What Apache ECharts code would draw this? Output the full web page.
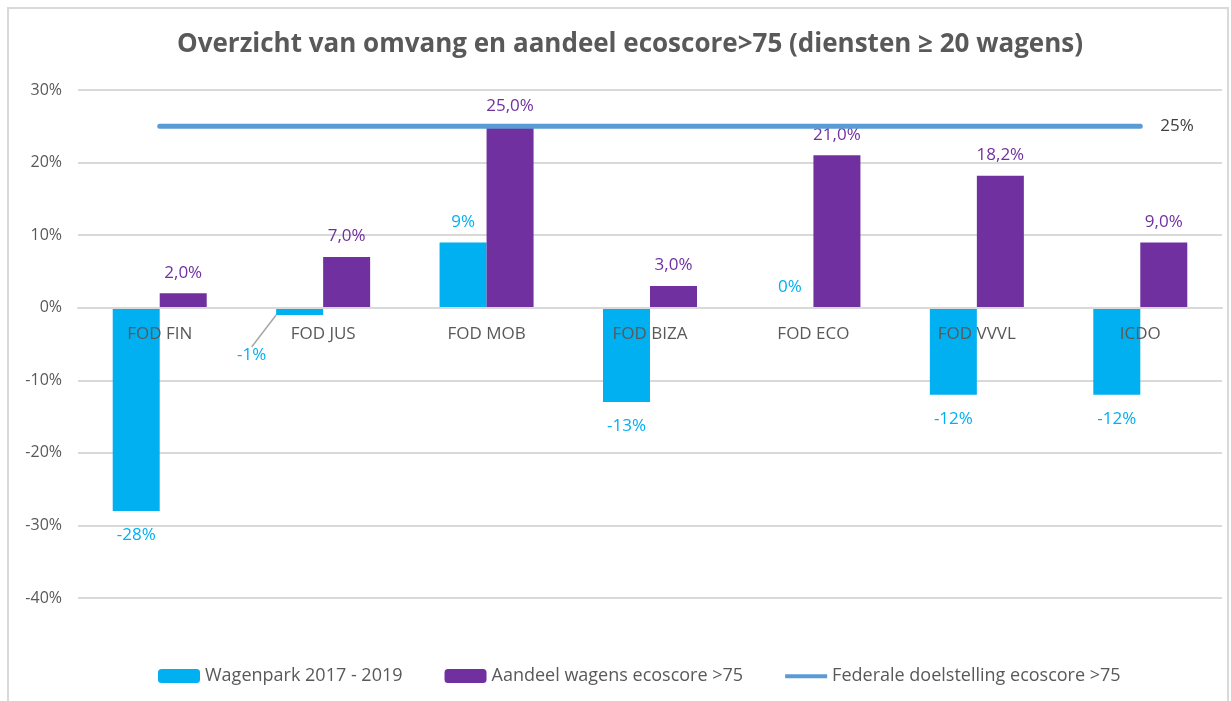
<!DOCTYPE html>
<html>
<head>
<meta charset="utf-8" />
<title>Ecoscore</title>
<style>
  html, body { margin: 0; padding: 0; background: #fff; }
  #main { width: 1231px; height: 701px; }
</style>
</head>
<body>
<div id="main"></div>
<script src="https://cdn.jsdelivr.net/npm/echarts@6/dist/echarts.min.js"></script>
<script>
var categories = ['FOD FIN', 'FOD JUS', 'FOD MOB', 'FOD BIZA', 'FOD ECO', 'FOD VVVL', 'ICDO'];
var wagenpark = [-28, -1, 9, -13, 0, -12, -12];
var aandeel = [2.0, 7.0, 25.0, 3.0, 21.0, 18.2, 9.0];
var doelstelling = [25, 25, 25, 25, 25, 25, 25];
var yTicks = [-40, -30, -20, -10, 0, 10, 20, 30];

var FONT = '"Open Sans", sans-serif';
var CYAN = '#00B0F0';
var PURPLE = '#7030A0';
var GREY = '#595959';

var gridTop = 90, gridBottom = 103, gridHeight = 701 - gridTop - gridBottom;
var yMin = yTicks[0], yMax = yTicks[yTicks.length - 1];
// move the category axis up to the 0% line
var zeroOffset = -gridHeight * (0 - yMin) / (yMax - yMin);

var myChart = echarts.init(document.getElementById('main'));

var wagenData = wagenpark.map(function (v, i) {
    var item = {
        value: v,
        label: { position: v < 0 ? 'bottom' : 'top', distance: v < 0 ? 16 : 12 }
    };
    if (i === 1) {
        item.labelLine = { show: true, lineStyle: { color: '#a6a6a6', width: 1.5 } };
    }
    return item;
});

var option = {
    backgroundColor: '#fff',
    textStyle: { fontFamily: FONT },
    title: {
        text: 'Overzicht van omvang en aandeel ecoscore>75 (diensten \u2265 20 wagens)',
        left: 625,
        textAlign: 'center',
        top: 27,
        textStyle: { fontFamily: FONT, fontSize: 26, fontWeight: 'bold', color: GREY }
    },
    graphic: [{
        type: 'rect',
        shape: { x: 8, y: 8, width: 1220, height: 700 },
        style: { fill: 'none', stroke: '#d9d9d9', lineWidth: 2 },
        silent: true
    }],
    legend: {
        bottom: 11,
        left: 153,
        itemWidth: 42,
        itemHeight: 14,
        itemGap: 42,
        textStyle: { fontFamily: FONT, fontSize: 18, color: GREY },
        data: [
            'Wagenpark 2017 - 2019',
            'Aandeel wagens ecoscore >75',
            { name: 'Federale doelstelling ecoscore >75',
              icon: 'path://M0,0L0,0M0,5L45,5L45,9.5L0,9.5ZM45,14L45,14' }
        ]
    },
    grid: { left: 78, right: 9, top: gridTop, bottom: gridBottom },
    xAxis: {
        type: 'category',
        data: categories,
        z: 10,
        offset: zeroOffset,
        axisLine: { show: true, onZero: false, lineStyle: { color: '#d9d9d9', width: 2 } },
        axisTick: { show: false },
        axisLabel: { margin: 18, fontFamily: FONT, fontSize: 17, color: GREY }
    },
    yAxis: {
        type: 'value',
        min: yMin,
        max: yMax,
        interval: 10,
        axisLine: { show: false },
        axisTick: { show: false },
        splitLine: { lineStyle: { color: '#d9d9d9', width: 2 } },
        axisLabel: { margin: 16, fontFamily: FONT, fontSize: 16, color: GREY, formatter: '{value}%' }
    },
    series: [{
        name: 'Wagenpark 2017 - 2019',
        type: 'bar',
        data: wagenData,
        barWidth: 47,
        barGap: '0%',
        itemStyle: { color: CYAN },
        label: {
            show: true,
            fontFamily: FONT,
            fontSize: 17,
            color: CYAN,
            formatter: function (p) { return p.value + '%'; }
        },
        labelLayout: function (p) {
            if (p.dataIndex === 1) {
                return { dx: -48, dy: 16 };
            }
        }
    }, {
        name: 'Aandeel wagens ecoscore >75',
        type: 'bar',
        data: aandeel,
        barWidth: 47,
        barGap: '0%',
        itemStyle: { color: PURPLE },
        label: {
            show: true,
            position: 'top',
            distance: 12,
            fontFamily: FONT,
            fontSize: 17,
            color: PURPLE,
            formatter: function (p) { return p.value.toFixed(1).replace('.', ',') + '%'; }
        }
    }, {
        name: 'Federale doelstelling ecoscore >75',
        type: 'line',
        data: doelstelling,
        symbol: 'none',
        z: 5,
        lineStyle: { color: '#5B9BD5', width: 5, cap: 'round' },
        itemStyle: { color: '#5B9BD5' },
        endLabel: {
            show: true,
            distance: 20,
            fontFamily: FONT,
            fontSize: 17,
            color: '#404040',
            formatter: function (p) { return p.value + '%'; }
        }
    }]
};
myChart.setOption(option);
</script>
</body>
</html>
